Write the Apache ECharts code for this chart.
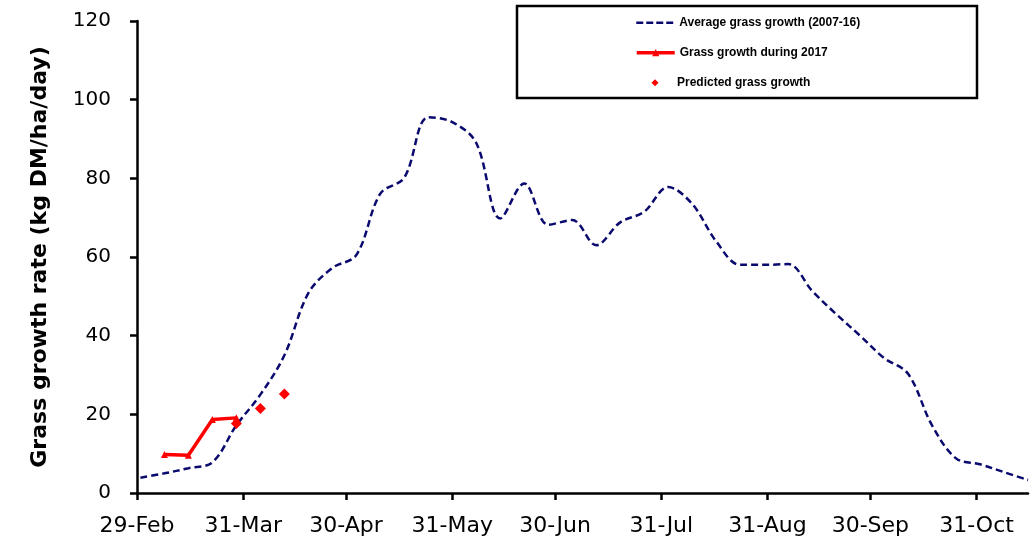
<!DOCTYPE html>
<html>
<head>
<meta charset="utf-8">
<script src="https://cdn.jsdelivr.net/npm/echarts@6/dist/echarts.min.js"></script>
<style>
html,body{margin:0;padding:0;background:#fff;}
#chart{width:1033px;height:541px;}
</style>
</head>
<body>
<div id="chart"></div>
<script>
// x values are days after 29-Feb
const tickDays = [0, 31, 61, 92, 122, 153, 184, 214, 245];
const tickLabels = ['29-Feb', '31-Mar', '30-Apr', '31-May', '30-Jun', '31-Jul', '31-Aug', '30-Sep', '31-Oct'];

const avgDays = [1, 8, 15, 22, 29, 36, 43, 50, 57, 64, 71, 78, 85, 92, 99, 106, 113, 120, 127, 134, 141, 148, 155, 162, 169, 176, 183, 190, 197, 204, 211, 218, 225, 232, 239, 246, 253, 260];
const avgValues = [3.9, 5.0, 6.3, 7.8, 17.2, 25, 35, 50.8, 57.2, 60.5, 76.1, 80.2, 95.5, 94.3, 89, 69.8, 78.7, 68.2, 69.4, 63, 68.8, 71.5, 77.8, 73.5, 64, 58, 58, 58.2, 51.4, 45.5, 40, 34.3, 30.3, 17.2, 8.8, 7.3, 5.3, 3.3];

const growth2017Days = [8, 15, 22, 29];
const growth2017Values = [9.8, 9.6, 18.7, 19.1];

const predictedDays = [29, 36, 43];
const predictedValues = [17.7, 21.5, 25.2];

const seriesNames = ['Average grass growth (2007-16)', 'Grass growth during 2017', 'Predicted grass growth'];

const pairs = (xs, ys) => xs.map((x, i) => [x, ys[i]]);

const chart = echarts.init(document.getElementById('chart'), null, {renderer: 'canvas'});
const legendText = {fontFamily: 'Liberation Sans', fontWeight: 'bold', fontSize: 12, color: '#000'};
chart.setOption({
  animation: false,
  backgroundColor: '#fff',
  grid: {left: 137, right: 5, top: 21, bottom: 48, containLabel: false},
  graphic: [{
    type: 'rect', z: 0,
    shape: {x: 517, y: 6, width: 460, height: 92},
    style: {fill: '#fff', stroke: '#000', lineWidth: 2.5}
  }],
  legend: [
    {data: [seriesNames[0]], orient: 'vertical', left: 635, top: 16.7, padding: 0, itemWidth: 38, itemHeight: 12,
     textStyle: legendText, z: 5,
     itemStyle: {color: 'rgba(0,0,0,0)', borderWidth: 0, opacity: 0},
     lineStyle: {width: 2.5, type: [7, 3], color: '#0a0a6e'}},
    {data: [seriesNames[1]], orient: 'vertical', left: 635, top: 46.7, padding: 0, itemWidth: 38, itemHeight: 9,
     textStyle: legendText, z: 5, lineStyle: {width: 3.5, color: '#ff0000'}},
    {data: [{name: seriesNames[2], icon: 'diamond'}], orient: 'vertical', left: 651.5, top: 76.7, padding: 0, itemWidth: 7, itemHeight: 7,
     textStyle: Object.assign({}, legendText, {padding: [0, 0, 0, 13.5]}), z: 5, itemStyle: {color: '#ff0000', opacity: 1}}
  ],
  xAxis: {
    type: 'value', min: 0, max: 260,
    axisLine: {show: true, onZero: false, lineStyle: {color: '#000', width: 2.5}},
    axisTick: {show: true, inside: false, length: 7, customValues: tickDays, lineStyle: {color: '#000', width: 2.5}},
    axisLabel: {
      customValues: tickDays, margin: 22,
      formatter: v => tickLabels[tickDays.indexOf(v)] || '',
      fontFamily: 'DejaVu Sans', fontSize: 22, color: '#000'
    },
    splitLine: {show: false}
  },
  yAxis: {
    type: 'value', min: 0, max: 120, interval: 20,
    name: 'Grass growth rate (kg DM/ha/day)', nameLocation: 'middle', nameGap: 86,
    nameTextStyle: {fontFamily: 'DejaVu Sans', fontWeight: 'bold', fontSize: 22, color: '#000'},
    axisLine: {show: true, lineStyle: {color: '#000', width: 2.5}},
    axisTick: {show: true, inside: false, length: 7, lineStyle: {color: '#000', width: 2.5}},
    axisLabel: {margin: 26, fontFamily: 'DejaVu Sans', fontSize: 20, color: '#000'},
    splitLine: {show: false}
  },
  series: [
    {
      name: seriesNames[0], type: 'line', data: pairs(avgDays, avgValues),
      smooth: 0.35, symbol: 'none', color: '#0a0a6e',
      lineStyle: {color: '#0a0a6e', width: 2.5, type: [7, 4]}
    },
    {
      name: seriesNames[1], type: 'line', data: pairs(growth2017Days, growth2017Values),
      symbol: 'triangle', symbolSize: 7, color: '#ff0000',
      lineStyle: {color: '#ff0000', width: 3.5}, itemStyle: {color: '#ff0000'}, z: 3
    },
    {
      name: seriesNames[2], type: 'scatter', data: pairs(predictedDays, predictedValues),
      symbol: 'diamond', symbolSize: 11, color: '#ff0000', itemStyle: {color: '#ff0000', opacity: 1}, z: 4
    }
  ]
});
</script>
</body>
</html>
